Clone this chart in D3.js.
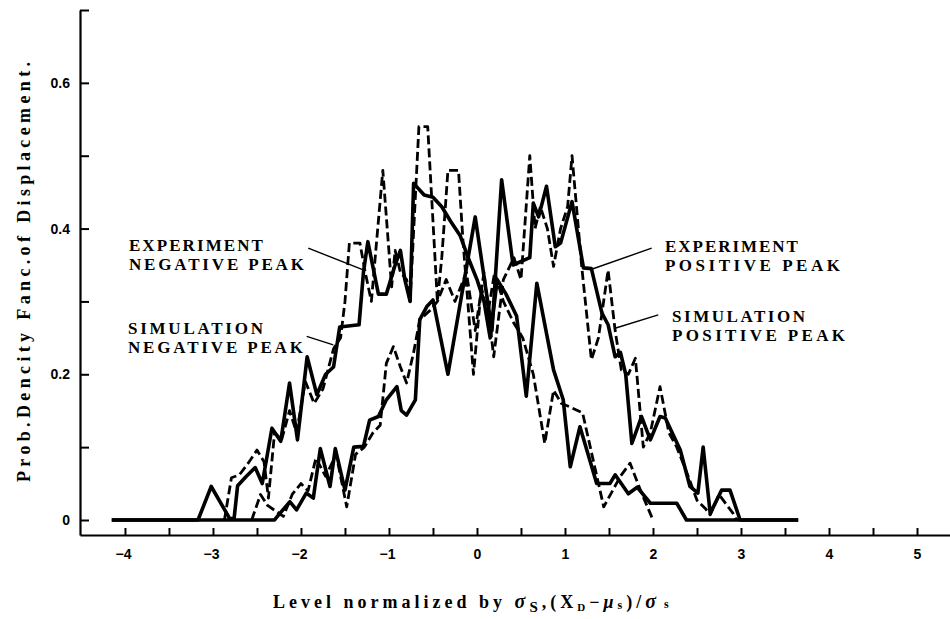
<!DOCTYPE html>
<html>
<head>
<meta charset="utf-8">
<script src="https://cdn.jsdelivr.net/npm/d3@7"></script>
<style>
  html, body { margin: 0; padding: 0; background: #fff; }
  svg { display: block; }
</style>
</head>
<body>
<svg id="chart" width="950" height="619"></svg>
<script>
// Probability density of displacement vs. level normalized by sigma_s.
// Each series is a list of [level, density] pairs.
const expNeg = [
  [-4.15,0],[-3.17,0],[-3.02,0.046],[-2.81,0.002],[-2.76,0.002],[-2.72,0.047],[-2.62,0.06],
  [-2.52,0.072],[-2.44,0.05],[-2.33,0.126],[-2.23,0.108],[-2.13,0.188],[-2.04,0.11],
  [-1.93,0.224],[-1.82,0.172],[-1.72,0.2],[-1.63,0.21],[-1.56,0.265],[-1.34,0.268],
  [-1.29,0.34],[-1.24,0.382],[-1.12,0.31],[-1.03,0.31],[-0.93,0.35],[-0.87,0.37],
  [-0.82,0.33],[-0.76,0.3],[-0.72,0.462],[-0.6,0.446],[-0.5,0.443],[-0.4,0.43],
  [-0.3,0.41],[-0.19,0.39],[-0.1,0.36],[0.0,0.33],[0.08,0.3],[0.15,0.25],[0.23,0.33],
  [0.33,0.31],[0.45,0.28],[0.56,0.17],[0.68,0.325],[0.87,0.206],[0.98,0.165],
  [1.06,0.073],[1.17,0.128],[1.36,0.05],[1.51,0.05],[1.57,0.062],[1.72,0.036],
  [1.82,0.045],[1.97,0.023],[2.27,0.023],[2.38,0.0],[3.65,0]
];
const simNeg = [
  [-2.87,0],[-2.79,0.058],[-2.7,0.062],[-2.6,0.078],[-2.5,0.096],[-2.42,0.08],[-2.37,0.03],
  [-2.3,0.12],[-2.22,0.11],[-2.13,0.15],[-2.05,0.12],[-1.95,0.19],[-1.85,0.16],
  [-1.75,0.18],[-1.63,0.235],[-1.55,0.25],[-1.5,0.3],[-1.45,0.38],[-1.33,0.38],
  [-1.27,0.34],[-1.2,0.3],[-1.07,0.48],[-0.97,0.32],[-0.93,0.37],[-0.87,0.34],
  [-0.8,0.33],[-0.76,0.3],[-0.66,0.54],[-0.56,0.54],[-0.5,0.41],[-0.45,0.3],
  [-0.4,0.36],[-0.33,0.48],[-0.21,0.48],[-0.16,0.385],[-0.04,0.2],[0.05,0.32],
  [0.12,0.28],[0.2,0.34],[0.3,0.3],[0.42,0.27],[0.52,0.25],[0.64,0.2],[0.77,0.105],
  [0.87,0.178],[0.96,0.16],[1.06,0.155],[1.2,0.147],[1.44,0.018],[1.63,0.06],
  [1.74,0.078],[1.86,0.04],[2.0,0]
];
const expPos = [
  [-4.15,0],[-2.3,0],[-2.24,0.009],[-2.125,0.025],[-2.05,0.014],[-1.94,0.037],[-1.86,0.03],
  [-1.78,0.098],[-1.67,0.046],[-1.61,0.098],[-1.5,0.041],[-1.4,0.1],[-1.29,0.101],
  [-1.22,0.137],[-1.12,0.142],[-1.03,0.165],[-0.91,0.183],[-0.86,0.15],[-0.8,0.144],
  [-0.7,0.165],[-0.65,0.275],[-0.57,0.293],[-0.5,0.302],[-0.33,0.2],[-0.02,0.416],
  [0.17,0.26],[0.28,0.467],[0.41,0.35],[0.6,0.36],[0.64,0.435],[0.7,0.416],
  [0.79,0.458],[0.89,0.375],[0.95,0.38],[1.08,0.437],[1.21,0.346],[1.3,0.345],
  [1.42,0.284],[1.49,0.268],[1.57,0.224],[1.63,0.23],[1.69,0.2],[1.76,0.105],
  [1.87,0.142],[1.97,0.11],[2.08,0.142],[2.14,0.14],[2.31,0.096],[2.42,0.046],
  [2.51,0.037],[2.57,0.1],[2.65,0.009],[2.78,0.041],[2.875,0.041],[2.99,0.0],[3.65,0]
];
const simPos = [
  [-2.56,0],[-2.46,0.035],[-2.38,0.02],[-2.2,0.005],[-2.1,0.035],[-2.0,0.05],[-1.92,0.04],
  [-1.83,0.085],[-1.72,0.06],[-1.6,0.09],[-1.48,0.018],[-1.38,0.09],[-1.28,0.1],
  [-1.18,0.12],[-1.1,0.13],[-1.03,0.215],[-0.95,0.238],[-0.87,0.21],[-0.8,0.188],
  [-0.72,0.23],[-0.65,0.275],[-0.53,0.288],[-0.45,0.3],[-0.35,0.33],[-0.25,0.3],
  [-0.12,0.34],[-0.02,0.26],[0.08,0.34],[0.19,0.224],[0.3,0.33],[0.42,0.36],[0.5,0.33],
  [0.6,0.5],[0.66,0.4],[0.72,0.43],[0.8,0.4],[0.87,0.348],[0.95,0.4],[1.03,0.43],
  [1.08,0.5],[1.19,0.348],[1.3,0.22],[1.38,0.25],[1.49,0.343],[1.57,0.26],[1.64,0.206],
  [1.72,0.2],[1.8,0.222],[1.89,0.1],[1.97,0.12],[2.08,0.183],[2.18,0.12],[2.27,0.1],
  [2.4,0.06],[2.5,0.027],[2.6,0.015],[2.65,0.007],[2.75,0.035],[2.91,0.009],[2.95,0]
];

const xTickValues = [-4,-3.5,-3,-2.5,-2,-1.5,-1,-0.5,0,0.5,1,1.5,2,2.5,3,3.5,4,4.5,5];
const xTickLabels = [-4,-3,-2,-1,0,1,2,3,4,5];
const yTickValues = [0,0.1,0.2,0.3,0.4,0.5,0.6,0.7];
const yTickLabels = [0,0.2,0.4,0.6];
const yTitle = "Prob.Dencity Fanc.of Displacement.";

// Callout labels, anchored in data units: text origin and leader line ends
const callouts = [
  { lines: ["EXPERIMENT", "NEGATIVE PEAK"], at: [-3.955, 0.3694], widths: [134, 175],
    from: [-1.917, 0.3731], to: [-1.292, 0.3433] },
  { lines: ["SIMULATION", "NEGATIVE PEAK"], at: [-3.966, 0.2547], widths: [135, 175],
    from: [-1.935, 0.252], to: [-1.633, 0.2403] },
  { lines: ["EXPERIMENT", "POSITIVE PEAK"], at: [2.136, 0.3673], widths: [133, 175],
    from: [1.985, 0.3731], to: [1.303, 0.3442] },
  { lines: ["SIMULATION", "POSITIVE PEAK"], at: [2.216, 0.2712], widths: [133, 173],
    from: [2.06, 0.2815], to: [1.568, 0.2632] }
];

const svg = d3.select("#chart");
svg.append("rect").attr("width", 950).attr("height", 619).attr("fill", "#fff");

// Axis frame: left axis from the top cap down to the baseline, bottom axis to the right edge
const x = d3.scaleLinear().domain([-4.511, 5.375]).range([80, 950]);
const y = d3.scaleLinear().domain([-0.0206, 0.7]).range([535, 10]);

const fmtX = v => xTickLabels.includes(v) ? (v < 0 ? "\u2212" + Math.abs(v) : String(v)) : "";
const fmtY = v => yTickLabels.some(t => Math.abs(t - v) < 1e-9) ? (v === 0 ? "0" : v.toFixed(1)) : "";

const gx = svg.append("g").attr("transform", `translate(0,${y.range()[0]})`)
  .call(d3.axisBottom(x).tickValues(xTickValues).tickFormat(fmtX)
        .tickSizeInner(-7).tickSizeOuter(0).tickPadding(14));
const gy = svg.append("g").attr("transform", `translate(${x.range()[0]},0)`)
  .call(d3.axisLeft(y).tickValues(yTickValues).tickFormat(fmtY)
        .tickSizeInner(-9).tickSizeOuter(0).tickPadding(10));

[gx, gy].forEach(g => {
  g.select(".domain").attr("stroke", "#000").attr("stroke-width", 2.2);
  g.selectAll(".tick line").attr("stroke", "#000").attr("stroke-width", 2);
  g.selectAll(".tick text").attr("fill", "#000")
    .style("font-family", "'Liberation Sans', Arial, sans-serif")
    .style("font-weight", "bold").style("font-size", "14px");
});
gx.selectAll(".tick text").attr("dx", d => d < 0 ? "-2" : "0");

// Curves
const line = d3.line().x(d => x(d[0])).y(d => y(d[1]));
const curves = [
  { data: simNeg, dash: "9,4", width: 2.8 },
  { data: simPos, dash: "9,4", width: 2.8 },
  { data: expNeg, dash: null, width: 3.6 },
  { data: expPos, dash: null, width: 3.6 }
];
svg.append("g").selectAll("path").data(curves).join("path")
  .attr("d", c => line(c.data))
  .attr("fill", "none").attr("stroke", "#000")
  .attr("stroke-width", c => c.width)
  .attr("stroke-dasharray", c => c.dash)
  .attr("stroke-linejoin", "round").attr("stroke-linecap", "butt");

// Callouts
const cg = svg.append("g");
callouts.forEach(c => {
  cg.append("line")
    .attr("x1", x(c.from[0])).attr("y1", y(c.from[1]))
    .attr("x2", x(c.to[0])).attr("y2", y(c.to[1]))
    .attr("stroke", "#000").attr("stroke-width", 1.4);
  c.lines.forEach((t, i) => {
    cg.append("text")
      .attr("x", x(c.at[0])).attr("y", y(c.at[1]) + i * 19)
      .attr("textLength", c.widths[i]).attr("lengthAdjust", "spacing")
      .style("font-family", "'Liberation Serif', 'Times New Roman', serif")
      .style("font-weight", "bold").style("font-size", "17px")
      .text(t);
  });
});

// Y title
svg.append("text")
  .attr("transform", "translate(30,272) rotate(-90)")
  .attr("text-anchor", "middle")
  .attr("textLength", 420).attr("lengthAdjust", "spacing")
  .style("font-family", "'Liberation Serif', 'Times New Roman', serif")
  .style("font-weight", "bold").style("font-size", "18px")
  .text(yTitle);

// X title with subscripts
const xt = svg.append("text")
  .attr("x", 273).attr("y", 608)
  .style("font-family", "'Liberation Serif', 'Times New Roman', serif")
  .style("font-weight", "bold").style("font-size", "18px");
xt.append("tspan").text("Level normalized by ");
xt.append("tspan").style("font-style", "italic").style("font-size", "20px").text("\u03C3");
xt.append("tspan").attr("dy", 4).style("font-size", "15px").text("S");
xt.append("tspan").attr("dy", -4).text(",(X");
xt.append("tspan").attr("dy", 3).style("font-size", "11px").text("D");
xt.append("tspan").attr("dy", -3).text("\u2212");
xt.append("tspan").style("font-style", "italic").text("\u03BC");
xt.append("tspan").attr("dy", 1).style("font-size", "12px").text("s");
xt.append("tspan").attr("dy", -1).text(")/");
xt.append("tspan").style("font-style", "italic").style("font-size", "20px").text("\u03C3");
xt.append("tspan").attr("dx", 4).style("font-size", "12px").text("s");
{
  const w0 = xt.node().getBBox().width;
  const n = xt.text().length;
  xt.style("letter-spacing", ((400 - w0) / n) + "px");
}
</script>
</body>
</html>
